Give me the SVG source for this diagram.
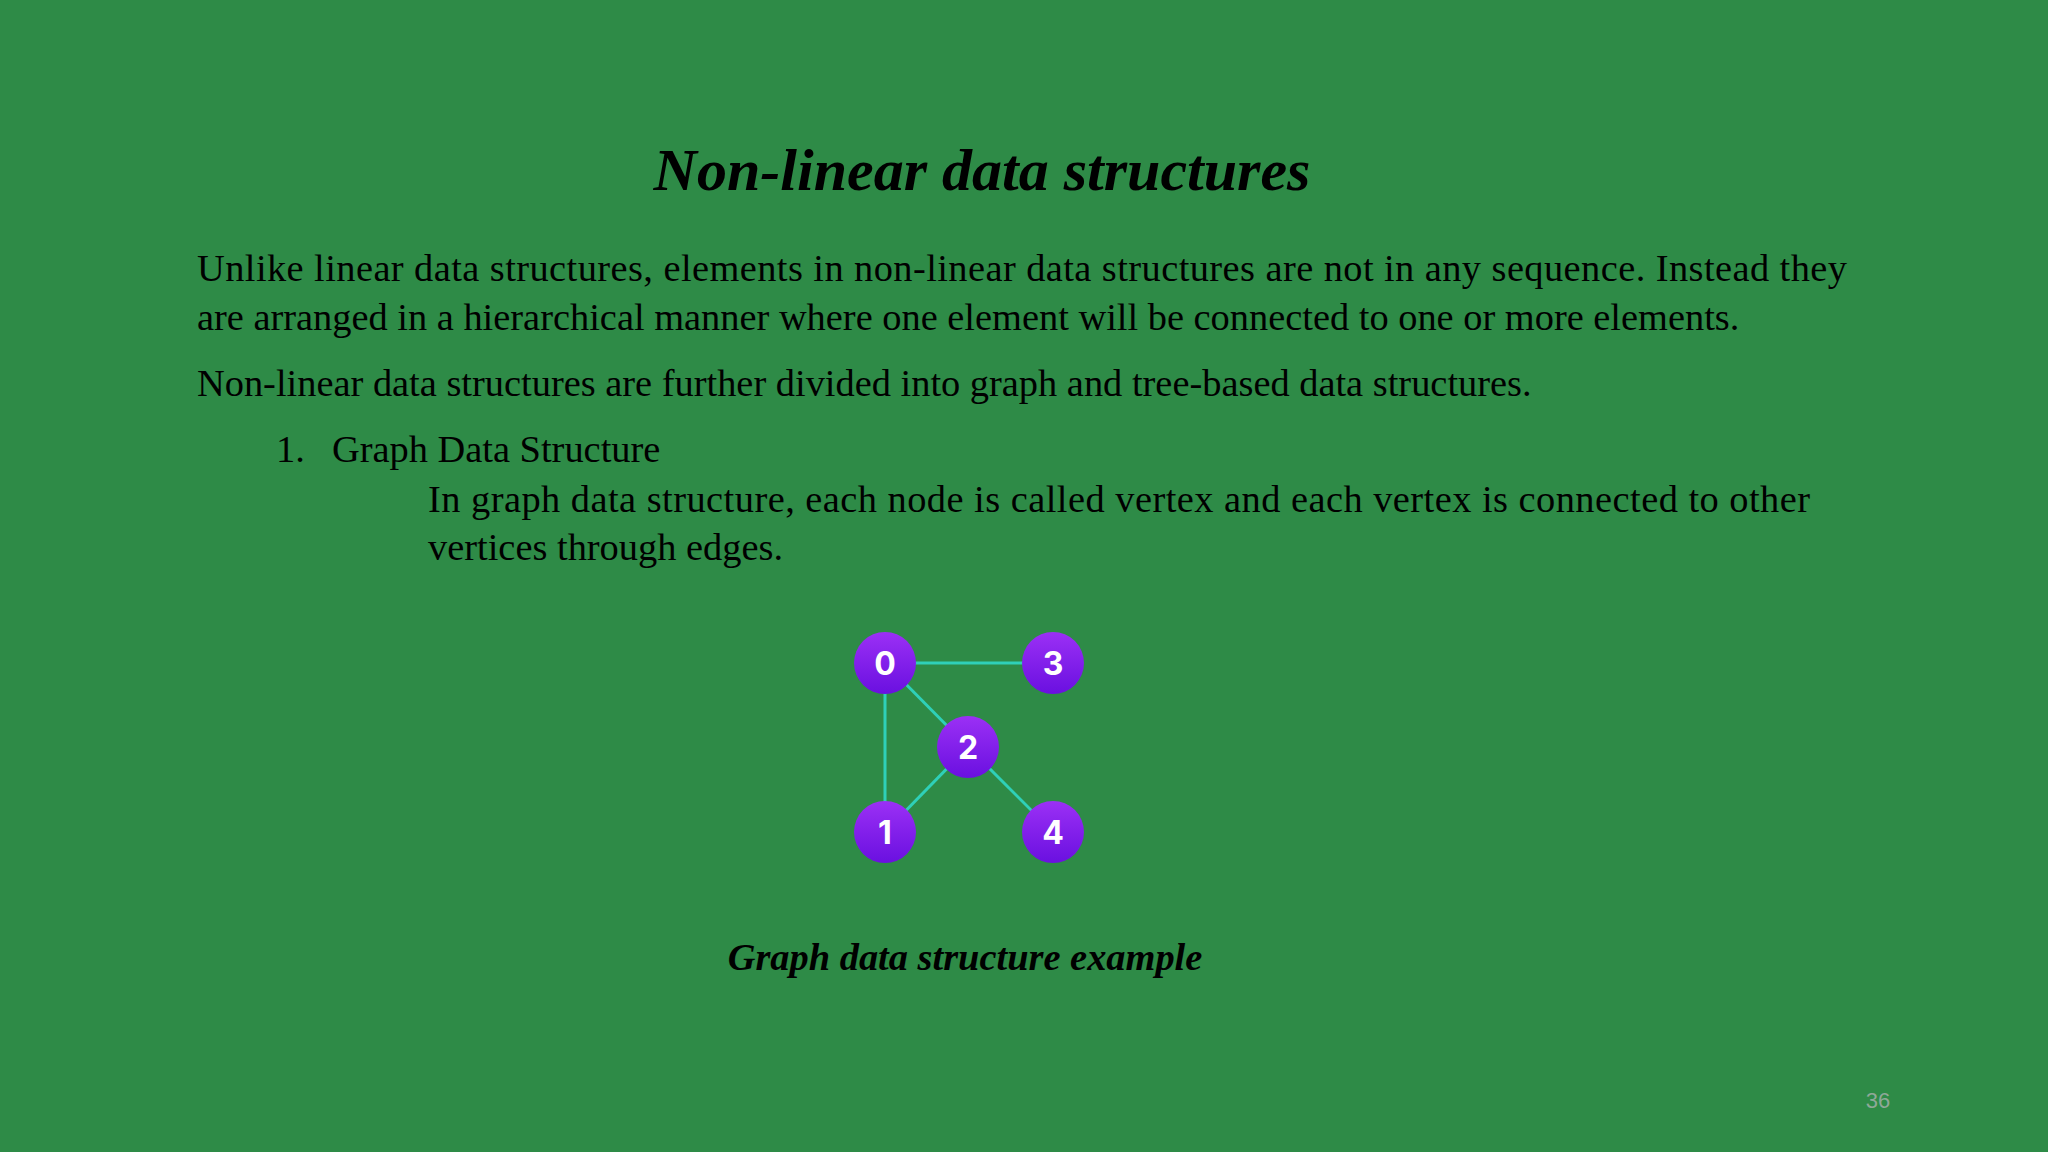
<svg xmlns="http://www.w3.org/2000/svg" width="2048" height="1152" viewBox="0 0 2048 1152">
<defs>
<linearGradient id="pg" x1="0" y1="0" x2="0" y2="1"><stop offset="0" stop-color="#9B30F5"/><stop offset="1" stop-color="#6A10E0"/></linearGradient>
<style>
.t{font-family:"Liberation Serif",serif;font-size:38.4px;fill:#000}
.n{fill:url(#pg)}
.nl{font-family:"Inter","Liberation Sans",sans-serif;font-weight:bold;font-size:32px;fill:#fff;text-anchor:middle}
.e{stroke:#2FD0B8;stroke-width:3}
</style>
</defs>
<rect width="2048" height="1152" fill="#2E8B47"/>
<text x="982" y="190" text-anchor="middle" font-family="Liberation Serif,serif" font-size="60" font-weight="bold" font-style="italic">Non-linear data structures</text>
<text class="t" x="197" y="281" textLength="1650" lengthAdjust="spacing">Unlike linear data structures, elements in non-linear data structures are not in any sequence. Instead they</text>
<text class="t" x="197" y="330">are arranged in a hierarchical manner where one element will be connected to one or more elements.</text>
<text class="t" x="197" y="396">Non-linear data structures are further divided into graph and tree-based data structures.</text>
<text class="t" x="276" y="462">1.</text>
<text class="t" x="332" y="462">Graph Data Structure</text>
<text class="t" x="428" y="512" textLength="1382" lengthAdjust="spacing">In graph data structure, each node is called vertex and each vertex is connected to other</text>
<text class="t" x="428" y="560">vertices through edges.</text>
<g id="connectors">
<line class="e" x1="885" y1="663" x2="1053" y2="663"/>
<line class="e" x1="885" y1="663" x2="968" y2="747"/>
<line class="e" x1="885" y1="663" x2="885" y2="832"/>
<line class="e" x1="968" y1="747" x2="885" y2="832"/>
<line class="e" x1="968" y1="747" x2="1053" y2="832"/>
</g>
<g id="node0"><circle class="n" cx="885" cy="663" r="31"/><text class="nl" x="885" y="675">0</text></g>
<g id="node3"><circle class="n" cx="1053" cy="663" r="31"/><text class="nl" x="1053" y="675">3</text></g>
<g id="node2"><circle class="n" cx="968" cy="747" r="31"/><text class="nl" x="968" y="759">2</text></g>
<g id="node1"><circle class="n" cx="885" cy="832" r="31"/><text class="nl" x="885" y="844">1</text></g>
<g id="node4"><circle class="n" cx="1053" cy="832" r="31"/><text class="nl" x="1053" y="844">4</text></g>
<text x="965" y="970" text-anchor="middle" font-family="Liberation Serif,serif" font-size="38.4" font-weight="bold" font-style="italic">Graph data structure example</text>
<text x="1878" y="1108" text-anchor="middle" font-family="Liberation Sans,sans-serif" font-size="22" fill="#8FA898">36</text>
</svg>
